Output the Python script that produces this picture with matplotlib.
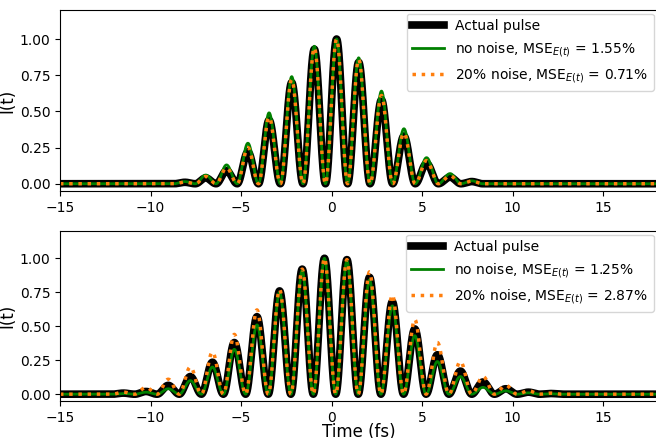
import numpy as np
import matplotlib
matplotlib.use("Agg")
import matplotlib.pyplot as plt

# -----------------------------
# Peak positions (fs) and peak heights
# -----------------------------
top_peak_t = [-9.3, -8.1, -6.95, -5.8, -4.62, -3.45, -2.2, -0.95, 0.28, 1.5, 2.76, 4.0, 5.25, 6.55, 7.75, 8.95]
top_actual = [0.0, 0.01, 0.04, 0.09, 0.22, 0.44, 0.70, 0.93, 1.0, 0.84, 0.58, 0.33, 0.14, 0.045, 0.015, 0.0]
top_clean = [0.0, 0.015, 0.06, 0.13, 0.28, 0.49, 0.74, 0.95, 1.0, 0.87, 0.64, 0.38, 0.18, 0.07, 0.02, 0.0]
top_noisy = [0.0, 0.012, 0.05, 0.11, 0.25, 0.46, 0.72, 0.94, 1.0, 0.86, 0.61, 0.35, 0.16, 0.055, 0.018, 0.0]
top_mse = (1.55, 0.71)

bot_peak_t = [-12.75, -11.5, -10.25, -9.02, -7.8, -6.58, -5.37, -4.12, -2.87, -1.62, -0.39, 0.85, 2.1, 3.36, 4.6, 5.85, 7.12, 8.37, 9.63, 10.88, 12.12, 13.37]
bot_actual = [0.0, 0.008, 0.02, 0.065, 0.13, 0.235, 0.38, 0.57, 0.76, 0.92, 1.0, 0.99, 0.86, 0.68, 0.48, 0.29, 0.17, 0.09, 0.04, 0.015, 0.005, 0.0]
bot_clean = [0.0, 0.005, 0.015, 0.04, 0.10, 0.20, 0.33, 0.51, 0.75, 0.91, 1.0, 0.98, 0.84, 0.65, 0.43, 0.24, 0.13, 0.05, 0.025, 0.01, 0.003, 0.0]
bot_noisy = [0.0, 0.015, 0.05, 0.11, 0.20, 0.31, 0.44, 0.62, 0.77, 0.92, 1.0, 0.99, 0.90, 0.73, 0.55, 0.38, 0.24, 0.13, 0.065, 0.025, 0.008, 0.0]
bot_mse = (1.25, 2.87)


def pulse_curve(t, peak_t, peak_h):
    """cos^2 lobes between the listed peaks, each lobe scaled to its peak height."""
    peak_t = np.asarray(peak_t)
    peak_h = np.asarray(peak_h)
    out = np.zeros_like(t)
    for k in range(len(peak_t) - 1):
        a, b = peak_t[k], peak_t[k + 1]
        m = (t >= a) & (t < b)
        ph = (t[m] - a) / (b - a)
        h = np.where(ph < 0.5, peak_h[k], peak_h[k + 1])
        out[m] = h * np.cos(np.pi * ph) ** 2
    return out


t = np.linspace(-16, 19, 6000)

fig = plt.figure(figsize=(6.56, 4.38), dpi=100)
ax_top = fig.add_axes([0.0915, 0.564, 0.9105, 0.413])
ax_bot = fig.add_axes([0.0915, 0.0845, 0.9105, 0.388])

panels = [
    (ax_top, top_peak_t, top_actual, top_clean, top_noisy, top_mse),
    (ax_bot, bot_peak_t, bot_actual, bot_clean, bot_noisy, bot_mse),
]

for ax, pk, act, cln, nsy, mse in panels:
    ax.plot(t, pulse_curve(t, pk, act), color="black", lw=5.5, label="Actual pulse")
    ax.plot(t, pulse_curve(t, pk, cln), color="green", lw=2,
            label=f"no noise, MSE$_{{E(t)}}$ = {mse[0]:.2f}%")
    ax.plot(t, pulse_curve(t, pk, nsy), color="#ff7f0e", lw=2.5, ls=":",
            label=f"20% noise, MSE$_{{E(t)}}$ = {mse[1]:.2f}%")
    ax.set_xlim(-15, 18)
    ax.set_ylim(-0.05, 1.2)
    ax.set_yticks([0, 0.25, 0.5, 0.75, 1.0])
    ax.set_xticks([-15, -10, -5, 0, 5, 10, 15])
    ax.tick_params(labelsize=10)
    ax.set_ylabel("I(t)", fontsize=12, labelpad=2)
    ax.legend(loc="upper right", fontsize=10, borderaxespad=0.25, handlelength=2.3)

ax_bot.set_xlabel("Time (fs)", fontsize=12, labelpad=-1)

plt.savefig("out.png", dpi=100)
